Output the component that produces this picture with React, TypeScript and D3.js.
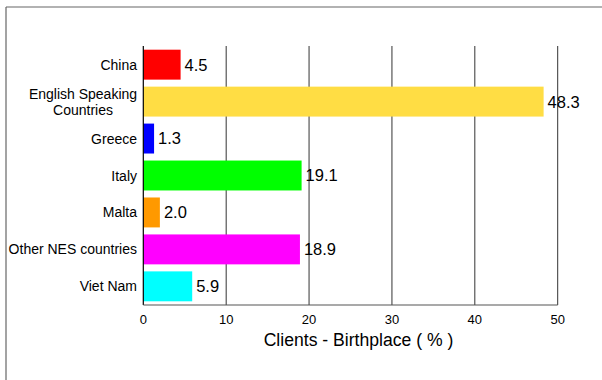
import React from "react";
import * as d3 from "d3";

const categories = ["China", "English Speaking Countries", "Greece", "Italy", "Malta", "Other NES countries", "Viet Nam"];
const values = [4.5, 48.3, 1.3, 19.1, 2.0, 18.9, 5.9];
const colors = ["#FF0000", "#FFDD44", "#0000FF", "#00FF00", "#FF9900", "#FF00FF", "#00FFFF"];
const ticks = [0, 10, 20, 30, 40, 50];
const labelLines: Record<string, string[]> = {
  "English Speaking Countries": ["English Speaking", "Countries"],
};

export default function App() {
  const W = 602, H = 380;
  const left = 143.3, right = 557.7, top = 46, bottom = 305;
  const x = d3.scaleLinear().domain([0, 50]).range([left, right]);
  const y = d3.scaleBand<string>().domain(categories).range([top, bottom]).paddingInner(0.19).paddingOuter(0.1);
  const font = "Arial, 'Liberation Sans', sans-serif";
  return (
    <svg width={W} height={H} style={{ position: "absolute", left: 0, top: 0 }} fontFamily={font}>
      <rect x={0} y={0} width={W} height={H} fill="#fff" />
      <line x1={6} y1={7} x2={W} y2={7} stroke="#666" strokeWidth={1.2} />
      <line x1={6} y1={7} x2={6} y2={H} stroke="#666" strokeWidth={1.2} />
      {ticks.slice(1).map((t) => (
        <line key={t} x1={x(t)} x2={x(t)} y1={top} y2={bottom} stroke="#333" strokeWidth={1} />
      ))}
      {categories.map((c, i) => (
        <rect key={c} x={x(0)} y={y(c)!} width={x(values[i]) - x(0)} height={y.bandwidth()} fill={colors[i]} />
      ))}
      {categories.map((c, i) => (
        <text key={c} x={x(values[i]) + 4} y={y(c)! + y.bandwidth() / 2} dy="0.36em" fontSize={16.5} fill="#000">
          {values[i].toFixed(1)}
        </text>
      ))}
      {categories.map((c) => {
        const lines = labelLines[c];
        const cy = y(c)! + y.bandwidth() / 2;
        if (lines) {
          return (
            <text key={c} fontSize={14} fill="#000" textAnchor="middle">
              {lines.map((l, j) => (
                <tspan key={j} x={83} y={cy + (j - (lines.length - 1) / 2) * 16} dy="0.36em">{l}</tspan>
              ))}
            </text>
          );
        }
        return (
          <text key={c} x={137} y={cy} dy="0.36em" fontSize={14} fill="#000" textAnchor="end">{c}</text>
        );
      })}
      <line x1={left} x2={left} y1={top} y2={bottom} stroke="#000" strokeWidth={1.2} />
      <line x1={left} x2={right} y1={bottom} y2={bottom} stroke="#555" strokeWidth={1.2} />
      {ticks.map((t) => (
        <text key={t} x={x(t)} y={319} dy="0.36em" fontSize={13} textAnchor="middle" fill="#000">{t}</text>
      ))}
      <text x={358.5} y={340} dy="0.36em" fontSize={17.6} textAnchor="middle" fill="#000">Clients - Birthplace ( % )</text>
    </svg>
  );
}
